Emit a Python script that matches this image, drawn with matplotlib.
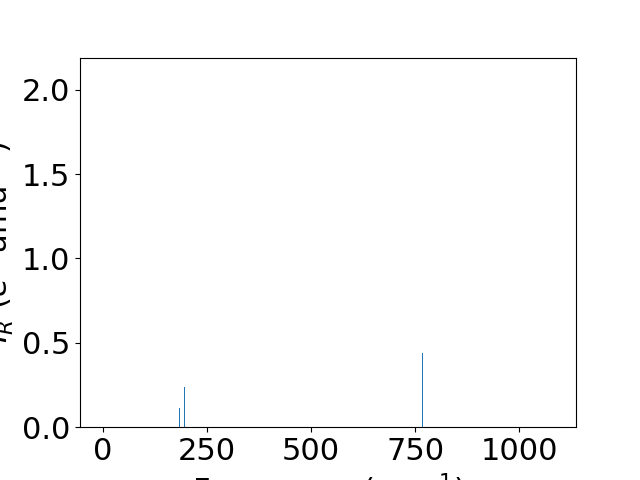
import matplotlib
matplotlib.use("Agg")
import matplotlib.pyplot as plt

# Raman activity peaks
freq = [185, 197, 768]
intensity = [0.113, 0.24, 0.44]

plt.rcParams['font.size'] = 22

fig, ax = plt.subplots(figsize=(6.4, 4.8), dpi=100)
ax.bar(freq, intensity, width=3, color='#1f77b4')
ax.set_xlim(-54, 1136)
ax.set_ylim(0, 2.19)
ax.set_xticks([0, 250, 500, 750, 1000])
ax.set_yticks([0.0, 0.5, 1.0, 1.5, 2.0])
ax.set_xlabel(r'Frequency (cm$^{-1}$)')
ax.set_ylabel(r'$I_R$ ($e^2$ amu$^{-1}$)')

fig.savefig('out.png', dpi=100)
